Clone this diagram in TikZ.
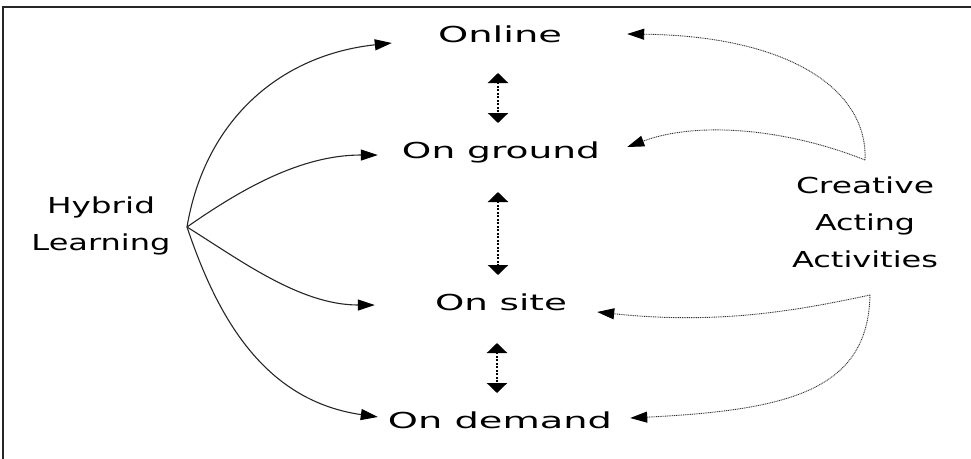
\documentclass[tikz,border=0pt]{standalone}
\usepackage{fontspec}
\setmainfont{DejaVu Sans}
\usetikzlibrary{arrows.meta,calc}
\newcommand\fitw[2]{\resizebox{#1}{\height}{#2}}
\begin{document}
\begin{tikzpicture}[x=1pt,y=-1pt,
  lbl/.style={inner sep=0pt, anchor=base, font=\fontsize{22}{26}\selectfont},
  twoline/.style={lbl, align=center, font=\fontsize{22}{37}\selectfont},
  solidarr/.style={draw=black!85, line width=1.1pt, -{Triangle[length=17pt,width=11pt,color=black]}},
  dotarr/.style={draw=black!80, line width=0.9pt, dash pattern=on 1pt off 0.8pt, -{Triangle[length=17pt,width=11pt,color=black]}},
  dblarr/.style={draw=black, line width=2.5pt, dash pattern=on 2pt off 1.5pt, {Triangle[length=10pt,width=20pt]}-{Triangle[length=10pt,width=20pt]}}]
\useasboundingbox (0,0) rectangle (971,458);
\draw[line width=2pt, black!85] (3,460) -- (3,7) -- (973,7);

\node[lbl] (online)   at (500,42)  {\fitw{124pt}{Online}};
\node[lbl] (onground) at (501,158) {\fitw{198pt}{On ground}};
\node[lbl] (onsite)   at (501,310) {\fitw{132pt}{On site}};
\node[lbl] (ondemand) at (500,428) {\fitw{224pt}{On demand}};
\node[twoline] (hybrid) at (101,250) {\fitw{108pt}{Hybrid}\\\fitw{139pt}{Learning}};
\node[twoline] (caa) at (865,267) {\fitw{138pt}{Creative}\\\fitw{100pt}{Acting}\\\fitw{146pt}{Activities}};

\coordinate (hl)  at (187,227);
\coordinate (ca1) at (865,160);
\coordinate (ca2) at (870,295);

% left solid arrows
\draw[solidarr] (hl) .. controls (205,120) and (280,55) .. ($(online.base west)+(-46,1)$);
\draw[solidarr] (hl) .. controls (240,190) and (300,155) .. ($(onground.base west)+(-24,-3)$);
\draw[solidarr] (hl) .. controls (240,260) and (300,305) .. ($(onsite.base west)+(-60,-5)$);
\draw[solidarr] (hl) .. controls (215,310) and (260,400) .. ($(ondemand.base west)+(-10,-11)$);

% right dotted arrows
\draw[dotarr] (ca1) .. controls (868,90) and (790,36) .. ($(online.base east)+(65,-8)$);
\draw[dotarr] (ca1) .. controls (790,130) and (700,120) .. ($(onground.base east)+(27,-11)$);
\draw[dotarr] (ca2) .. controls (800,310) and (720,325) .. ($(onsite.base east)+(30,2)$);
\draw[dotarr] (ca2) .. controls (868,390) and (790,410) .. ($(ondemand.base east)+(18,-10)$);

% vertical double arrows
\draw[dblarr] ($(online.base)+(-2,31)$) -- ($(onground.base)+(-3,-35)$);
\draw[dblarr] ($(onground.base)+(-3,34)$) -- ($(onsite.base)+(-3,-35)$);
\draw[dblarr] ($(onsite.base)+(-4,33)$) -- ($(ondemand.base)+(-3,-35)$);
\end{tikzpicture}
\end{document}
